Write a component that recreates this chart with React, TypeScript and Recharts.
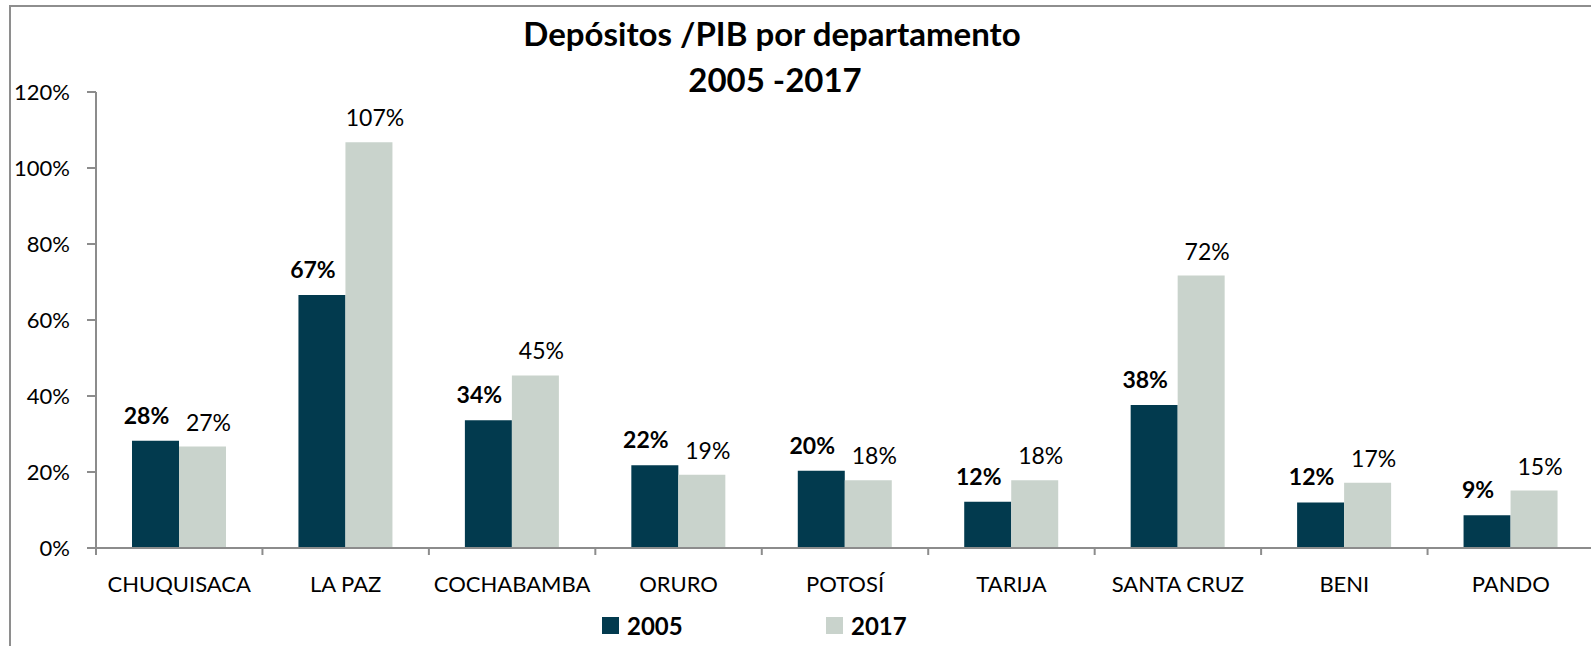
import React from "react";
import { BarChart, Bar, XAxis, YAxis, Legend, LabelList } from "recharts";

const departments = [
  "CHUQUISACA",
  "LA PAZ",
  "COCHABAMBA",
  "ORURO",
  "POTOSÍ",
  "TARIJA",
  "SANTA CRUZ",
  "BENI",
  "PANDO",
];
const values2005 = [28.2, 66.6, 33.6, 21.8, 20.3, 12.2, 37.6, 12.0, 8.6];
const values2017 = [26.7, 106.8, 45.4, 19.3, 17.8, 17.8, 71.7, 17.2, 15.1];
const yTicks = [0, 20, 40, 60, 80, 100, 120];

const DARK = "#023a4e";
const LIGHT = "#c9d3cc";
const AXIS = "#8c8c8c";
const FONT = "Lato, 'Open Sans', sans-serif";

const data = departments.map((name, i) => ({
  name,
  y2005: values2005[i],
  y2017: values2017[i],
}));

const CategoryTick = (props: any) => {
  const { x, y, payload } = props;
  const edge = x - (payload.offset || 0);
  return (
    <g>
      <line x1={edge} y1={y} x2={edge} y2={y + 7} stroke={AXIS} strokeWidth={2} />
      <text x={x} y={y + 44} textAnchor="middle" fontFamily={FONT} fontSize={22} fill="#000">
        {payload.value}
      </text>
    </g>
  );
};

const makeLabel = (bold: boolean, dx: number, lift: number) => (props: any) => {
  const { x, y, width, value } = props;
  return (
    <text
      x={x + width / 2 + dx}
      y={y - lift}
      textAnchor="middle"
      fontFamily={FONT}
      fontSize={23}
      fontWeight={bold ? 700 : 400}
      fill="#000"
    >
      {`${Math.round(value)}%`}
    </text>
  );
};

const LegendContent = () => (
  <div style={{ display: "flex", alignItems: "center", fontFamily: FONT, fontWeight: 700, fontSize: 24 }}>
    <span style={{ width: 17, height: 17, background: DARK, display: "inline-block" }} />
    <span style={{ marginLeft: 8, width: 58 }}>2005</span>
    <span style={{ marginLeft: 141, width: 17, height: 17, background: LIGHT, display: "inline-block" }} />
    <span style={{ marginLeft: 8 }}>2017</span>
  </div>
);

export default function App() {
  return (
    <div
      style={{
        position: "absolute",
        left: 0,
        top: 0,
        width: 1591,
        height: 646,
        overflow: "hidden",
        background: "#fff",
      }}
    >
      <div
        style={{
          position: "absolute",
          left: 9,
          top: 5,
          width: 1700,
          height: 800,
          border: "2px solid #8e8e8e",
        }}
      />
      <BarChart
        width={1600}
        height={646}
        data={data}
        margin={{ top: 92, right: 6, left: 0, bottom: 68 }}
        barGap={0}
        barSize={47}
        style={{ position: "absolute", left: 0, top: 0 }}
      >
        <XAxis
          dataKey="name"
          height={30}
          axisLine={{ stroke: AXIS, strokeWidth: 2 }}
          tickLine={false}
          tickSize={0}
          tickMargin={0}
          interval={0}
          tick={<CategoryTick />}
        />
        <YAxis
          width={96}
          domain={[0, 120]}
          ticks={yTicks}
          interval={0}
          axisLine={{ stroke: AXIS, strokeWidth: 2 }}
          tickLine={{ stroke: AXIS, strokeWidth: 2 }}
          tickSize={9}
          tickMargin={17}
          tickFormatter={(v: number) => `${v}%`}
          tick={{ fontFamily: FONT, fontSize: 22, fill: "#000" }}
        />
        <Legend
          layout="horizontal"
          verticalAlign="middle"
          align="center"
          content={<LegendContent />}
          wrapperStyle={{ position: "absolute", left: 602, top: 611, width: 400 }}
        />
        <Bar dataKey="y2005" fill={DARK} isAnimationActive={false}>
          <LabelList dataKey="y2005" content={makeLabel(true, -9, 17)} />
        </Bar>
        <Bar dataKey="y2017" fill={LIGHT} isAnimationActive={false}>
          <LabelList dataKey="y2017" content={makeLabel(false, 6, 16)} />
        </Bar>
      </BarChart>
      <svg
        width={1591}
        height={110}
        style={{ position: "absolute", left: 0, top: 0, pointerEvents: "none" }}
      >
        <text x={772} y={46} textAnchor="middle" fontFamily={FONT} fontWeight={700} fontSize={33} fill="#000">
          Depósitos /PIB por departamento
        </text>
        <text x={775} y={92} textAnchor="middle" fontFamily={FONT} fontWeight={700} fontSize={33} fill="#000">
          2005 -2017
        </text>
      </svg>
    </div>
  );
}
